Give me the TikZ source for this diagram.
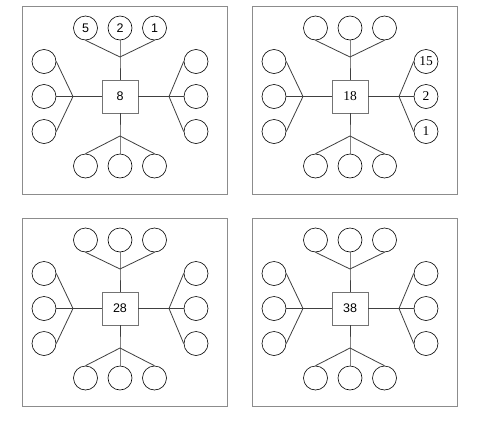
\documentclass[tikz,border=0pt]{standalone}
\usepackage{fontspec}
\setmainfont{Liberation Sans}
\newfontfamily\serifnum{Liberation Serif}
\tikzset{
  panelframe/.style={draw=black!45, line width=0.9pt, inner sep=0pt},
  hub/.style={draw=black!55, line width=0.8pt, minimum width=36pt, minimum height=33pt, inner sep=0pt, font=\fontsize{12.5}{12.5}\selectfont},
  leaf/.style={circle, draw=black, line width=0.6pt, minimum size=24pt, inner sep=0pt, font=\fontsize{12.5}{12.5}\selectfont},
  link/.style={draw=black!75, line width=0.8pt},
}
\newcommand\drawpanel[9]{%
  \begin{scope}[shift={(#2)}, name prefix=#1-]
    \node[panelframe, minimum width=205.5pt, minimum height=187.5pt] (fr) at (4.75,3.75) {};
    \node[hub] (h) at (0,0) {#3};
    \node[leaf] (t1) at (-34.5,-68.5) {#4};
    \node[leaf] (t2) at (0,-68.5) {#5};
    \node[leaf] (t3) at (34.5,-68.5) {#6};
    \node[leaf] (l1) at (-76,-35) {};
    \node[leaf] (l2) at (-76,0) {};
    \node[leaf] (l3) at (-76,35) {};
    \node[leaf] (r1) at (76,-35) {#7};
    \node[leaf] (r2) at (76,0) {#8};
    \node[leaf] (r3) at (76,35) {#9};
    \node[leaf] (b1) at (-34.5,69.5) {};
    \node[leaf] (b2) at (0,69.5) {};
    \node[leaf] (b3) at (34.5,69.5) {};
    \coordinate (jt) at (0,-39.5);
    \coordinate (jb) at (0,39.5);
    \coordinate (jl) at (-47,0);
    \coordinate (jr) at (49,0);
    \draw[link] (t1.south) -- (jt) -- (t3.south);
    \draw[link] (t2) -- (jt) -- (h);
    \draw[link] (b1.north) -- (jb) -- (b3.north);
    \draw[link] (b2) -- (jb) -- (h);
    \draw[link] (l1.east) -- (jl) -- (l3.east);
    \draw[link] (l2) -- (jl) -- (h);
    \draw[link] (r1.west) -- (jr) -- (r3.west);
    \draw[link] (r2) -- (jr) -- (h);
  \end{scope}}
\begin{document}
\begin{tikzpicture}[x=1pt, y=-1pt]
  \useasboundingbox[fill=white] (0,0) rectangle (490,426);
  \drawpanel{a}{120,96.5}{8}{5}{2}{1}{}{}{}
  \drawpanel{b}{350,96.5}{\serifnum\fontsize{13.5}{13.5}\selectfont 18}{}{}{}{\serifnum\fontsize{13.5}{13.5}\selectfont 15}{\serifnum\fontsize{13.5}{13.5}\selectfont 2}{\serifnum\fontsize{13.5}{13.5}\selectfont 1}
  \drawpanel{c}{120,308.5}{28}{}{}{}{}{}{}
  \drawpanel{d}{350,308.5}{38}{}{}{}{}{}{}
\end{tikzpicture}
\end{document}
